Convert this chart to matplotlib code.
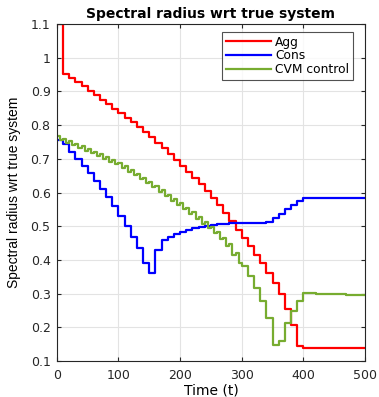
import numpy as np
import matplotlib
matplotlib.use("Agg")
import matplotlib.pyplot as plt

plt.rcParams['font.family'] = ['DejaVu Sans']

# time grid (block starts, step 10)
t_blocks = list(range(0, 510, 10))

agg = [1.100, 0.952, 0.940, 0.928, 0.915, 0.902, 0.889, 0.876, 0.862, 0.849,
       0.836, 0.822, 0.808, 0.794, 0.780, 0.764, 0.748, 0.731, 0.714, 0.697,
       0.680, 0.662, 0.643, 0.624, 0.604, 0.584, 0.563, 0.540, 0.514, 0.489,
       0.465, 0.440, 0.415, 0.391, 0.361, 0.331, 0.298, 0.254, 0.207, 0.145,
       0.140, 0.140, 0.140, 0.140, 0.140, 0.140, 0.140, 0.140, 0.140, 0.140,
       0.140]

cons = [0.756, 0.744, 0.721, 0.699, 0.679, 0.657, 0.635, 0.611, 0.586, 0.560,
        0.529, 0.501, 0.469, 0.435, 0.391, 0.361, 0.430, 0.458, 0.469, 0.477,
        0.484, 0.490, 0.495, 0.499, 0.502, 0.504, 0.506, 0.508, 0.509, 0.509,
        0.509, 0.509, 0.509, 0.509, 0.512, 0.524, 0.537, 0.551, 0.563, 0.575,
        0.585, 0.585, 0.585, 0.585, 0.585, 0.585, 0.585, 0.585, 0.585, 0.585,
        0.585]

# CVM control: first half / second half of each 10-step block, t = 0..290
cvm_first = [0.768, 0.760, 0.752, 0.745, 0.737, 0.729, 0.721, 0.713, 0.705, 0.697,
             0.689, 0.678, 0.667, 0.656, 0.644, 0.632, 0.620, 0.607, 0.594, 0.581,
             0.568, 0.555, 0.541, 0.527, 0.513, 0.499, 0.484, 0.466, 0.446, 0.420]
cvm_second = [0.755, 0.747, 0.740, 0.732, 0.724, 0.716, 0.708, 0.700, 0.692, 0.684,
              0.673, 0.662, 0.651, 0.639, 0.627, 0.615, 0.602, 0.589, 0.576, 0.563,
              0.550, 0.536, 0.522, 0.508, 0.494, 0.479, 0.461, 0.441, 0.415, 0.392]
# CVM control, t = 300..500 (10-step blocks)
cvm_tail = [0.382, 0.351, 0.316, 0.277, 0.227, 0.148, 0.158, 0.213, 0.247, 0.277,
            0.302, 0.301, 0.300, 0.299, 0.299, 0.298, 0.298, 0.297, 0.297, 0.296,
            0.296]

xticks = [0, 100, 200, 300, 400, 500]
yticks = [0.1, 0.2, 0.3, 0.4, 0.5, 0.6, 0.7, 0.8, 0.9, 1.0, 1.1]
ytick_labels = ['0.1', '0.2', '0.3', '0.4', '0.5', '0.6', '0.7', '0.8', '0.9', '1', '1.1']

# build CVM series
cvm_t, cvm_v = [], []
for i, (a, b) in enumerate(zip(cvm_first, cvm_second)):
    cvm_t += [t_blocks[i], t_blocks[i] + 5]
    cvm_v += [a, b]
for j, v in enumerate(cvm_tail):
    cvm_t.append(t_blocks[len(cvm_first) + j])
    cvm_v.append(v)

fig = plt.figure(figsize=(3.79, 3.97), dpi=100)
ax = fig.add_axes([0.150, 0.0907, 0.813, 0.8488])

lw = 1.6
ax.step(t_blocks, agg, where='post', color=(1, 0, 0), lw=lw, label='Agg')
ax.step(t_blocks, cons, where='post', color=(0, 0, 1), lw=lw, label='Cons')
ax.step(cvm_t, cvm_v, where='post', color=(0.466, 0.674, 0.188), lw=lw, label='CVM control')

ax.set_xlim(0, 500)
ax.set_ylim(0.1, 1.1)
ax.set_xticks(xticks)
ax.set_yticks(yticks)
ax.set_yticklabels(ytick_labels)
ax.grid(True, color='#e3e3e3', lw=0.8)
ax.set_axisbelow(True)
ax.tick_params(direction='in', length=3, width=0.8, top=True, right=True,
               labelsize=9, colors='#262626')
ax.tick_params(axis='x', pad=5.5)
ax.tick_params(axis='y', pad=4.5)
for s in ax.spines.values():
    s.set_color('#262626')
    s.set_linewidth(0.8)

ax.set_title('Spectral radius wrt true system', fontsize=10, fontweight='bold', pad=4)
ax.set_xlabel('Time (t)', fontsize=10, labelpad=1.5)
ax.set_ylabel('Spectral radius wrt true system', fontsize=10,
              family=['Liberation Sans', 'DejaVu Sans'])
ax.yaxis.set_label_coords(-0.115, 0.5)

leg = ax.legend(loc='upper right', bbox_to_anchor=(0.961, 0.976), fontsize=8.8,
                frameon=True, fancybox=False, edgecolor='#262626',
                handlelength=3.7, handletextpad=0.33, borderpad=0.3,
                labelspacing=0.05, borderaxespad=0)
leg.get_frame().set_linewidth(0.8)

fig.savefig('out.png', dpi=100)
